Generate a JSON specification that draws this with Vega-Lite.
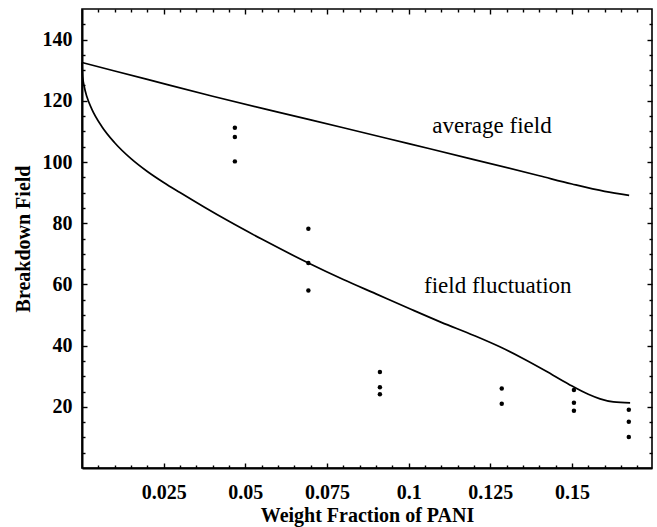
{
  "$schema": "https://vega.github.io/schema/vega-lite/v6.json",
  "width": 570,
  "height": 459,
  "autosize": {"type": "none"},
  "padding": {"left": 82, "top": 9, "right": 5, "bottom": 59},
  "background": "white",
  "config": {
    "view": {"stroke": "black", "strokeWidth": 1.6},
    "axis": {
      "grid": false,
      "domainColor": "black",
      "domainWidth": 2,
      "tickColor": "black",
      "tickWidth": 1.4,
      "labelColor": "black",
      "labelFont": "Liberation Serif",
      "labelFontWeight": "bold",
      "labelFontSize": 20,
      "titleColor": "black",
      "titleFont": "Liberation Serif",
      "titleFontWeight": "bold",
      "titleFontSize": 20,
      "labelOverlap": false,
      "labelFlush": false
    }
  },
  "datasets": {
    "curves": [
      {"series": "average", "x": 0, "y": 132.5},
      {"series": "average", "x": 0.02, "y": 127.0},
      {"series": "average", "x": 0.04, "y": 121.5},
      {"series": "average", "x": 0.06, "y": 116.3},
      {"series": "average", "x": 0.08, "y": 111.2},
      {"series": "average", "x": 0.1, "y": 106.0},
      {"series": "average", "x": 0.12, "y": 100.8},
      {"series": "average", "x": 0.14, "y": 95.5},
      {"series": "average", "x": 0.15, "y": 92.8},
      {"series": "average", "x": 0.16, "y": 90.4},
      {"series": "average", "x": 0.1675, "y": 89.1},
      {"series": "fluct", "x": 0, "y": 132.5},
      {"series": "fluct", "x": 0.0002, "y": 128.0},
      {"series": "fluct", "x": 0.0007, "y": 124.6},
      {"series": "fluct", "x": 0.0015, "y": 121.3},
      {"series": "fluct", "x": 0.003, "y": 117.3},
      {"series": "fluct", "x": 0.006, "y": 111.7},
      {"series": "fluct", "x": 0.01, "y": 106.3},
      {"series": "fluct", "x": 0.015, "y": 101.1},
      {"series": "fluct", "x": 0.02, "y": 96.9},
      {"series": "fluct", "x": 0.025, "y": 93.3},
      {"series": "fluct", "x": 0.03, "y": 90.0},
      {"series": "fluct", "x": 0.0375, "y": 85.2},
      {"series": "fluct", "x": 0.045, "y": 80.6},
      {"series": "fluct", "x": 0.055, "y": 74.8},
      {"series": "fluct", "x": 0.0693, "y": 67.0},
      {"series": "fluct", "x": 0.08, "y": 61.6},
      {"series": "fluct", "x": 0.09, "y": 56.9},
      {"series": "fluct", "x": 0.1, "y": 52.2},
      {"series": "fluct", "x": 0.11, "y": 47.6},
      {"series": "fluct", "x": 0.12, "y": 43.3},
      {"series": "fluct", "x": 0.1279, "y": 39.6},
      {"series": "fluct", "x": 0.135, "y": 35.8},
      {"series": "fluct", "x": 0.142, "y": 31.7},
      {"series": "fluct", "x": 0.149, "y": 27.4},
      {"series": "fluct", "x": 0.155, "y": 24.1},
      {"series": "fluct", "x": 0.1586, "y": 22.6},
      {"series": "fluct", "x": 0.1627, "y": 21.6},
      {"series": "fluct", "x": 0.1678, "y": 21.3}
    ],
    "points": [
      {"x": 0.0468, "y": 111.2},
      {"x": 0.0468, "y": 108.2},
      {"x": 0.0468, "y": 100.2},
      {"x": 0.0693, "y": 78.2},
      {"x": 0.0693, "y": 67.0},
      {"x": 0.0693, "y": 58.0},
      {"x": 0.0912, "y": 31.4},
      {"x": 0.0912, "y": 26.4},
      {"x": 0.0912, "y": 24.1},
      {"x": 0.1285, "y": 26.0},
      {"x": 0.1285, "y": 21.0},
      {"x": 0.1506, "y": 25.5},
      {"x": 0.1506, "y": 21.3},
      {"x": 0.1506, "y": 18.7},
      {"x": 0.1674, "y": 19.0},
      {"x": 0.1674, "y": 15.1},
      {"x": 0.1674, "y": 10.1}
    ],
    "labels": [
      {"x": 0.1255, "y": 109.6, "text": "average field"},
      {"x": 0.1273, "y": 57.2, "text": "field fluctuation"}
    ]
  },
  "layer": [
    {
      "data": {"name": "curves"},
      "transform": [{"filter": "datum.series == 'average'"}],
      "mark": {"type": "line", "color": "black", "strokeWidth": 1.7, "interpolate": "monotone"},
      "encoding": {
        "x": {"field": "x", "type": "quantitative",
          "scale": {"domain": [0, 0.1745], "nice": false, "zero": false},
          "axis": {"orient": "bottom", "values": [0.025, 0.05, 0.075, 0.1, 0.125, 0.15], "labelExpr": "datum.value + ''", "tickSize": -5, "labelPadding": 19, "title": "Weight Fraction of PANI", "titlePadding": 3}},
        "y": {"field": "y", "type": "quantitative",
          "scale": {"domain": [0, 150], "nice": false, "zero": false},
          "axis": {"orient": "left", "values": [20, 40, 60, 80, 100, 120, 140], "format": "d", "tickSize": -5, "labelPadding": 15, "title": "Breakdown Field", "titlePadding": 9}}
      }
    },
    {
      "data": {"name": "curves"},
      "transform": [{"filter": "datum.series == 'fluct'"}],
      "mark": {"type": "line", "color": "black", "strokeWidth": 1.7, "interpolate": "monotone"},
      "encoding": {
        "x": {"field": "x", "type": "quantitative",
          "scale": {"domain": [0, 0.1745], "nice": false, "zero": false},
          "axis": {"orient": "bottom", "values": [0.005, 0.01, 0.015, 0.02, 0.03, 0.035, 0.04, 0.045, 0.055, 0.06, 0.065, 0.07, 0.08, 0.085, 0.09, 0.095, 0.105, 0.11, 0.115, 0.12, 0.13, 0.135, 0.14, 0.145, 0.155, 0.16, 0.165, 0.17], "labels": false, "domain": false, "tickSize": -3, "title": null}},
        "y": {"field": "y", "type": "quantitative",
          "scale": {"domain": [0, 150], "nice": false, "zero": false},
          "axis": {"orient": "left", "values": [5, 10, 15, 25, 30, 35, 45, 50, 55, 65, 70, 75, 85, 90, 95, 105, 110, 115, 125, 130, 135, 145], "labels": false, "domain": false, "tickSize": -3, "title": null}}
      }
    },
    {
      "data": {"name": "points"},
      "mark": {"type": "circle", "color": "black", "opacity": 1, "size": 20},
      "encoding": {
        "x": {"field": "x", "type": "quantitative",
          "scale": {"domain": [0, 0.1745], "nice": false, "zero": false},
          "axis": {"orient": "top", "values": [0.025, 0.05, 0.075, 0.1, 0.125, 0.15], "labels": false, "domain": false, "tickSize": -5, "title": null}},
        "y": {"field": "y", "type": "quantitative",
          "scale": {"domain": [0, 150], "nice": false, "zero": false},
          "axis": {"orient": "right", "values": [20, 40, 60, 80, 100, 120, 140], "labels": false, "domain": false, "tickSize": -5, "title": null}}
      }
    },
    {
      "data": {"name": "labels"},
      "mark": {"type": "text", "color": "black", "font": "Liberation Serif", "fontSize": 23, "align": "center", "baseline": "alphabetic"},
      "encoding": {
        "x": {"field": "x", "type": "quantitative",
          "scale": {"domain": [0, 0.1745], "nice": false, "zero": false},
          "axis": {"orient": "top", "values": [0.005, 0.01, 0.015, 0.02, 0.03, 0.035, 0.04, 0.045, 0.055, 0.06, 0.065, 0.07, 0.08, 0.085, 0.09, 0.095, 0.105, 0.11, 0.115, 0.12, 0.13, 0.135, 0.14, 0.145, 0.155, 0.16, 0.165, 0.17], "labels": false, "domain": false, "tickSize": -3, "title": null}},
        "y": {"field": "y", "type": "quantitative",
          "scale": {"domain": [0, 150], "nice": false, "zero": false},
          "axis": {"orient": "right", "values": [5, 10, 15, 25, 30, 35, 45, 50, 55, 65, 70, 75, 85, 90, 95, 105, 110, 115, 125, 130, 135, 145], "labels": false, "domain": false, "tickSize": -3, "title": null}},
        "text": {"field": "text", "type": "nominal"}
      }
    }
  ],
  "resolve": {"axis": {"x": "independent", "y": "independent"}}
}
